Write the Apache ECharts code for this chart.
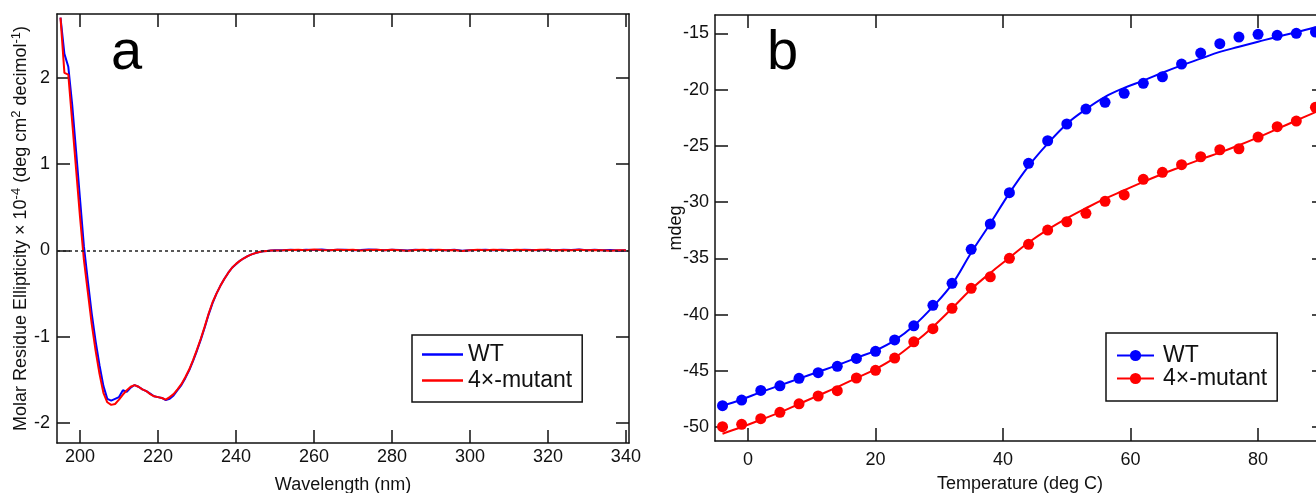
<!DOCTYPE html>
<html>
<head>
<meta charset="utf-8">
<script src="https://cdn.jsdelivr.net/npm/echarts@6/dist/echarts.min.js"></script>
<style>
html,body{margin:0;padding:0;background:#fff;}
#c{width:1316px;height:493px;}
</style>
</head>
<body>
<div id="c"></div>
<script>
// ---------- Panel a: CD spectra ----------
const wavelengthNm = [
  195,196,197,198,199,200,201,202,203,204,205,206,207,208,209,210,211,212,213,214,
  215,216,217,218,219,220,221,222,223,224,225,226,227,228,229,230,231,232,233,234,
  235,236,237,238,239,240,241,242,243,244,245,246,247,248,249,250,
  252,254,256,258,260,262,264,266,268,270,272,274,276,278,280,282,284,286,288,290,
  292,294,296,298,300,302,304,306,308,310,312,314,316,318,320,322,324,326,328,330,
  332,334,336,338,340
];
const wtMre = [
  2.70,2.28,2.13,1.69,1.15,0.60,0.05,-0.35,-0.73,-1.05,-1.33,-1.57,-1.72,-1.74,-1.72,-1.70,-1.62,-1.64,-1.59,-1.56,
  -1.58,-1.61,-1.63,-1.66,-1.69,-1.70,-1.71,-1.735,-1.72,-1.68,-1.62,-1.56,-1.48,-1.39,-1.28,-1.16,-1.03,-0.89,-0.74,-0.61,
  -0.50,-0.41,-0.33,-0.26,-0.20,-0.16,-0.12,-0.09,-0.065,-0.045,-0.03,-0.018,-0.01,-0.005,0.0,0.002,
  0.004,0.008,0.002,0.010,0.006,0.012,0.004,0.008,0.010,0.002,0.006,0.012,0.008,0.004,0.010,0.006,0.000,0.008,0.004,0.010,
  0.006,0.002,0.008,-0.004,0.004,0.006,0.010,0.002,0.008,0.006,0.004,0.010,0.006,0.002,0.008,0.004,0.010,0.006,0.012,0.004,
  0.008,0.002,0.006,0.000,0.004
];
const mutMre = [
  2.70,2.06,2.04,1.49,0.94,0.39,-0.11,-0.48,-0.85,-1.16,-1.43,-1.65,-1.76,-1.79,-1.78,-1.73,-1.67,-1.62,-1.58,-1.56,
  -1.58,-1.61,-1.63,-1.665,-1.69,-1.70,-1.71,-1.73,-1.70,-1.665,-1.61,-1.55,-1.47,-1.38,-1.27,-1.15,-1.02,-0.88,-0.73,-0.60,
  -0.50,-0.41,-0.33,-0.26,-0.20,-0.155,-0.12,-0.09,-0.065,-0.045,-0.03,-0.018,-0.01,-0.005,0.0,0.0,
  0.002,0.006,0.010,0.004,0.012,0.006,0.002,0.010,0.006,0.008,0.000,0.006,0.010,0.004,0.008,0.002,-0.004,0.006,0.008,0.002,
  0.010,0.004,0.006,-0.006,0.002,0.008,0.004,0.010,0.006,0.002,0.008,0.006,0.004,0.008,0.010,0.002,0.006,0.004,0.008,0.002,
  0.006,0.004,-0.002,0.004,0.002
];
const waveTicks = [200,220,240,260,280,300,320,340];
const mreTicks = [-2,-1,0,1,2];

// ---------- Panel b: thermal melt ----------
const tempC = [-4,-1,2,5,8,11,14,17,20,23,26,29,32,35,38,41,44,47,50,53,56,59,62,65,68,71,74,77,80,83,86,89];
const wtMdeg = [-48.1,-47.6,-46.74,-46.33,-45.67,-45.17,-44.6,-43.9,-43.27,-42.26,-41.0,-39.18,-37.22,-34.2,-31.95,-29.17,
  -26.56,-24.55,-23.06,-21.73,-21.13,-20.33,-19.44,-18.86,-17.73,-16.75,-15.92,-15.33,-15.09,-15.18,-15.0,-14.88];
const mutMdeg = [-49.97,-49.76,-49.26,-48.69,-47.93,-47.24,-46.77,-45.64,-44.96,-43.87,-42.42,-41.26,-39.45,-37.67,-36.64,-35.0,
  -33.76,-32.49,-31.75,-31.0,-29.93,-29.37,-27.98,-27.36,-26.68,-25.97,-25.35,-25.26,-24.22,-23.3,-22.8,-21.58];
const fitTempC = [-4,-1,2,5,8,11,14,17,20,23,26,29,32,35,38,41,44,47,50,53,56,59,62,65,68,71,74,77,80,83,86,89,90.5];
const wtFit = [-48.1,-47.55,-46.9,-46.3,-45.7,-45.1,-44.5,-43.85,-43.2,-42.3,-41.0,-39.3,-37.3,-34.5,-31.9,-29.2,
  -26.8,-24.8,-23.05,-21.75,-20.65,-19.85,-19.2,-18.5,-17.85,-17.25,-16.65,-16.2,-15.75,-15.3,-14.9,-14.45,-14.2];
const mutFit = [-50.6,-50.0,-49.35,-48.7,-47.95,-47.2,-46.45,-45.65,-44.85,-43.85,-42.55,-41.1,-39.45,-37.75,-36.3,-34.95,
  -33.6,-32.45,-31.45,-30.55,-29.7,-28.95,-28.2,-27.5,-26.85,-26.2,-25.6,-24.95,-24.25,-23.5,-22.75,-22.0,-21.6];
const tempTicks = [0,20,40,60,80];
const mdegTicks = [-50,-45,-40,-35,-30,-25,-20,-15];

const FONT = '"Liberation Sans", Arial, Helvetica, sans-serif';
const AX = '#111';
const BLUE = '#0000ff';
const RED = '#ff0000';
const pairs = (xs, ys) => xs.map((x, i) => [x, ys[i]]);

function axis(gridIndex, position, min, max, ticks, labelMargin, extra) {
  const showLabel = position === 'bottom' || position === 'left';
  return Object.assign({
    type: 'value', gridIndex, position, min, max,
    nameMoveOverlap: false,
    axisLine: { show: true, onZero: false, lineStyle: { color: AX, width: 1.5 } },
    axisTick: { show: true, inside: true, length: 13, customValues: ticks, lineStyle: { color: AX, width: 1.5 } },
    axisLabel: { show: showLabel, customValues: ticks, margin: labelMargin, fontSize: 18, color: '#111', fontFamily: FONT },
    splitLine: { show: false }
  }, extra || {});
}
const nameStyle = { fontSize: 18, color: '#111', fontFamily: FONT };

const chart = echarts.init(document.getElementById('c'));
chart.setOption({
  animation: false,
  backgroundColor: '#fff',
  textStyle: { fontFamily: FONT },
  grid: [
    { left: 57, top: 14, width: 572, height: 429, containLabel: false, outerBoundsMode: 'none' },
    { left: 715, top: 15, width: 610, height: 426, containLabel: false, outerBoundsMode: 'none' }
  ],
  xAxis: [
    axis(0, 'bottom', 194.1, 340.8, waveTicks, 5, { name: 'Wavelength (nm)', nameLocation: 'middle', nameGap: 33, nameTextStyle: nameStyle }),
    axis(0, 'top', 194.1, 340.8, waveTicks, 5),
    axis(1, 'bottom', -5.18, 90.5, tempTicks, 10, { name: 'Temperature (deg C)', nameLocation: 'middle', nameGap: 34, nameTextStyle: nameStyle }),
    axis(1, 'top', -5.18, 90.5, tempTicks, 10)
  ],
  yAxis: [
    axis(0, 'left', -2.232, 2.742, mreTicks, 7, {
      name: 'Molar Residue Ellipticity × 10{sup|-4} (deg cm{sup|2} decimol{sup|-1})',
      nameLocation: 'middle', nameGap: 25,
      nameTextStyle: Object.assign({}, nameStyle, { lineHeight: 22, rich: { sup: { fontSize: 13, lineHeight: 13, verticalAlign: 'top', color: '#111', fontFamily: FONT } } })
    }),
    axis(0, 'right', -2.232, 2.742, mreTicks, 7),
    axis(1, 'left', -51.24, -13.37, mdegTicks, 6, { name: 'mdeg', nameLocation: 'middle', nameGap: 30, nameTextStyle: nameStyle }),
    axis(1, 'right', -51.24, -13.37, mdegTicks, 6)
  ],
  legend: [
    {
      orient: 'vertical', left: 412, top: 335,
      data: ['WT', '4×-mutant'],
      icon: 'rect', itemWidth: 41, itemHeight: 2.5, itemGap: 3,
      padding: [8, 10, 10, 10],
      borderColor: AX, borderWidth: 1.5, backgroundColor: '#fff',
      selectedMode: false,
      textStyle: { fontSize: 23, lineHeight: 22, color: '#111', fontFamily: FONT }
    },
    {
      orient: 'vertical', left: 1106, top: 333,
      data: ['WT (fit)', '4×-mutant (fit)'],
      formatter: n => n.replace(' (fit)', ''),
      itemWidth: 37, itemHeight: 14, itemGap: 0,
      padding: [11, 10, 11, 10],
      borderColor: AX, borderWidth: 1.5, backgroundColor: '#fff',
      selectedMode: false,
      textStyle: { fontSize: 23, lineHeight: 22, color: '#111', fontFamily: FONT, padding: [0, 0, 0, 4] }
    }
  ],
  graphic: [
    { type: 'text', left: 111, top: 26, style: { text: 'a', font: '56px "Liberation Sans", Arial, sans-serif', fill: '#000' } },
    { type: 'text', left: 767, top: 26, style: { text: 'b', font: '56px "Liberation Sans", Arial, sans-serif', fill: '#000' } }
  ],
  series: [
    {
      name: 'zero', type: 'line', xAxisIndex: 0, yAxisIndex: 0, data: [], z: 1, silent: true,
      markLine: { silent: true, symbol: ['none', 'none'], label: { show: false },
        lineStyle: { type: [3, 3], color: '#222', width: 1.5 }, data: [{ yAxis: 0 }] }
    },
    {
      name: 'WT', type: 'line', xAxisIndex: 0, yAxisIndex: 0, data: pairs(wavelengthNm, wtMre),
      symbol: 'none', showSymbol: false, color: BLUE, lineStyle: { color: BLUE, width: 2 }, itemStyle: { color: BLUE }, z: 3
    },
    {
      name: '4×-mutant', type: 'line', xAxisIndex: 0, yAxisIndex: 0, data: pairs(wavelengthNm, mutMre),
      symbol: 'none', showSymbol: false, color: RED, lineStyle: { color: RED, width: 2 }, itemStyle: { color: RED }, z: 4
    },
    {
      name: 'WT (fit)', type: 'line', xAxisIndex: 2, yAxisIndex: 2, data: pairs(fitTempC, wtFit),
      smooth: 0.4, symbol: 'circle', showSymbol: false, color: BLUE, lineStyle: { color: BLUE, width: 2 }, itemStyle: { color: BLUE }, z: 3
    },
    {
      name: '4×-mutant (fit)', type: 'line', xAxisIndex: 2, yAxisIndex: 2, data: pairs(fitTempC, mutFit),
      smooth: 0.4, symbol: 'circle', showSymbol: false, color: RED, lineStyle: { color: RED, width: 2 }, itemStyle: { color: RED }, z: 3
    },
    {
      name: 'WT points', type: 'scatter', xAxisIndex: 2, yAxisIndex: 2, data: pairs(tempC, wtMdeg),
      symbol: 'circle', symbolSize: 11, itemStyle: { color: BLUE, opacity: 1 }, z: 5
    },
    {
      name: '4×-mutant points', type: 'scatter', xAxisIndex: 2, yAxisIndex: 2, data: pairs(tempC, mutMdeg),
      symbol: 'circle', symbolSize: 11, itemStyle: { color: RED, opacity: 1 }, z: 5
    }
  ]
});
</script>
</body>
</html>
